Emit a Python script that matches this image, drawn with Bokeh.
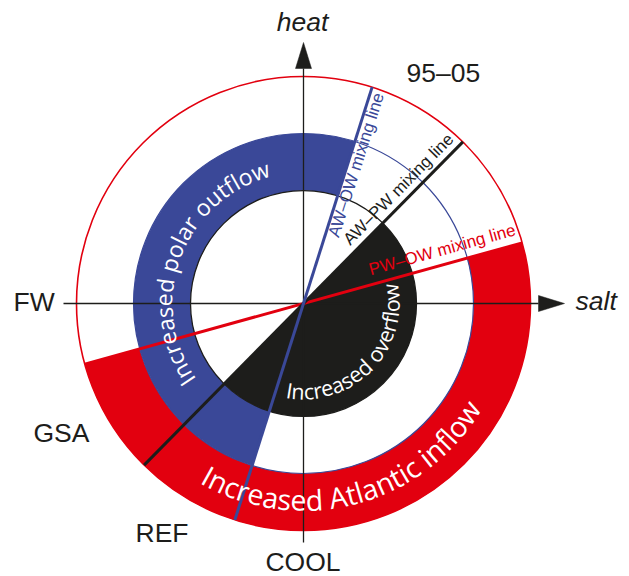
import math
from bokeh.plotting import figure
from bokeh.models import Range1d
from bokeh.core.properties import value
from bokeh.embed import file_html
from bokeh.resources import INLINE

# ---------------- data ----------------
RED = "#e2000f"
BLUE = "#3a4898"
BLACK = "#1d1d1b"

# annular bands (radius in px-like data units, angles in degrees)
band_names = ["Increased polar outflow", "Increased Atlantic inflow"]
band_inner = [113, 170]
band_outer = [170, 227]
band_start = [72.4, 195.5]
band_end = [252.4, 375.5]
band_colors = [BLUE, RED]

# central sector
sector_name = "Increased overflow"
sector_radius = 113
sector_start = 225.4
sector_end = 405.4

# reference circles
circle_radii = [227, 170, 113]
circle_colors = [RED, BLUE, BLACK]
circle_widths = [1.6, 1.2, 1.3]

# mixing lines
mix_names = ["PW–OW mixing line", "AW–PW mixing line", "AW–OW mixing line"]
mix_angles = [15.5, 45.4, 72.4]
mix_colors = [RED, BLACK, BLUE]
mix_radius = 227

# axis names and scenario labels
axis_names = ["heat", "salt"]
scenario_labels = ["95–05", "FW", "GSA", "REF", "COOL"]

rad = math.radians
K = 0.39  # baseline compensation (fraction of font size, along the text's up direction)

# ---------------- layout / style ----------------
W, H = 629, 576
CX, CY = 303, 303  # centre in picture pixels
p = figure(width=W, height=H, output_backend="svg", toolbar_location=None,
           x_axis_type=None, y_axis_type=None,
           x_range=Range1d(-CX, W - CX), y_range=Range1d(CY - H, CY),
           min_border=0, min_border_left=0, min_border_right=0,
           min_border_top=0, min_border_bottom=0)
p.outline_line_color = None
p.grid.visible = False
p.background_fill_color = "white"

# bands
p.annular_wedge(x=[0, 0], y=[0, 0], inner_radius=band_inner, outer_radius=band_outer,
                start_angle=[rad(a) for a in band_start], end_angle=[rad(a) for a in band_end],
                fill_color=band_colors, line_color=None)
# overflow sector
p.wedge(x=0, y=0, radius=sector_radius, start_angle=rad(sector_start), end_angle=rad(sector_end),
        fill_color=BLACK, line_color=None)
# circles
for r, c, w in zip(circle_radii, circle_colors, circle_widths):
    p.circle(x=0, y=0, radius=r, fill_color=None, line_color=c, line_width=w)

# axes with arrow heads
TIP = 261
HEAD_LEN = 26
HEAD_HW = 8
p.segment(x0=[-240, 0], y0=[0, -239], x1=[TIP - HEAD_LEN, 0], y1=[0, TIP - HEAD_LEN],
          line_color=BLACK, line_width=1.3)
p.patches(xs=[[TIP, TIP - HEAD_LEN, TIP - HEAD_LEN], [0, -HEAD_HW, HEAD_HW]],
          ys=[[0, HEAD_HW, -HEAD_HW], [TIP, TIP - HEAD_LEN, TIP - HEAD_LEN]],
          fill_color=BLACK, line_color=BLACK, line_width=0.5)

# mixing lines
for a, c in zip(mix_angles, mix_colors):
    t = rad(a)
    p.segment(x0=-mix_radius * math.cos(t), y0=-mix_radius * math.sin(t),
              x1=mix_radius * math.cos(t), y1=mix_radius * math.sin(t),
              line_color=c, line_width=3)

# mixing line labels (along line, offset normal to it)
MIX_ALONG = 148
MIX_SIZE = 17
mix_offsets = [8, 6, -15]
for name, a, c, off in zip(mix_names, mix_angles, mix_colors, mix_offsets):
    t = rad(a)
    o = off + K * MIX_SIZE
    x = MIX_ALONG * math.cos(t) - o * math.sin(t)
    y = MIX_ALONG * math.sin(t) + o * math.cos(t)
    p.text(x=[x], y=[y], text=[name], angle=t, text_align="center",
           text_baseline="alphabetic", text_color=c,
           text_font=value("Liberation Sans"), text_font_size=f"{MIX_SIZE}px")

# curved labels
OS_W = {" ": .26, "I": .27, "n": .614, "c": .476, "r": .408, "e": .561, "a": .556,
        "s": .477, "d": .613, "p": .613, "o": .604, "l": .253, "u": .614, "t": .353,
        "f": .339, "w": .778, "v": .501, "A": .633, "i": .253}


def curved(text, r_b, theta_mid, size, ccw):
    ws = [OS_W.get(ch, .55) * size for ch in text]
    T = sum(ws)
    # anchor radius compensated along the glyphs' up direction
    r_a = r_b - K * size if ccw else r_b + K * size
    xs, ys, angs, chars = [], [], [], []
    acc = 0.0
    for ch, w in zip(text, ws):
        cpos = acc + w / 2
        acc += w
        d = (cpos - T / 2) / r_b
        th = rad(theta_mid) + (d if ccw else -d)
        if ch == " ":
            continue
        xs.append(r_a * math.cos(th))
        ys.append(r_a * math.sin(th))
        angs.append(th + math.pi / 2 if ccw else th - math.pi / 2)
        chars.append(ch)
    return xs, ys, angs, chars


curve_cfg = [
    (band_names[0], 131, 159.6, 23, False),
    (band_names[1], 207.6, 284.7, 28.5, True),
    (sector_name, 96, 315.8, 21.5, True),
]
for text, rb, thm, size, ccw in curve_cfg:
    xs, ys, angs, chars = curved(text, rb, thm, size, ccw)
    p.text(x=xs, y=ys, text=chars, angle=angs, text_align="center",
           text_baseline="alphabetic", text_color="white",
           text_font=value("Open Sans"), text_font_size=f"{size}px")

LBL = 26.5
# axis names
p.text(x=[-1], y=[271 + K * LBL], text=[axis_names[0]], text_align="center",
       text_baseline="alphabetic", text_color=BLACK, text_font=value("Liberation Sans"),
       text_font_style="italic", text_font_size=f"{LBL}px")
p.text(x=[272], y=[-8 + K * LBL], text=[axis_names[1]], text_align="left",
       text_baseline="alphabetic", text_color=BLACK, text_font=value("Liberation Sans"),
       text_font_style="italic", text_font_size=f"{LBL}px")

# scenario labels
sc_x = [103, -290, -270, -168, -0.5]
sc_y = [220, -9, -140, -240, -269]
sc_align = ["left", "left", "left", "left", "center"]
for t, x, y, al in zip(scenario_labels, sc_x, sc_y, sc_align):
    p.text(x=[x], y=[y + K * LBL], text=[t], text_align=al, text_baseline="alphabetic",
           text_color=BLACK, text_font=value("Liberation Sans"), text_font_size=f"{LBL}px")

open("out.html", "w").write(file_html(p, INLINE))
